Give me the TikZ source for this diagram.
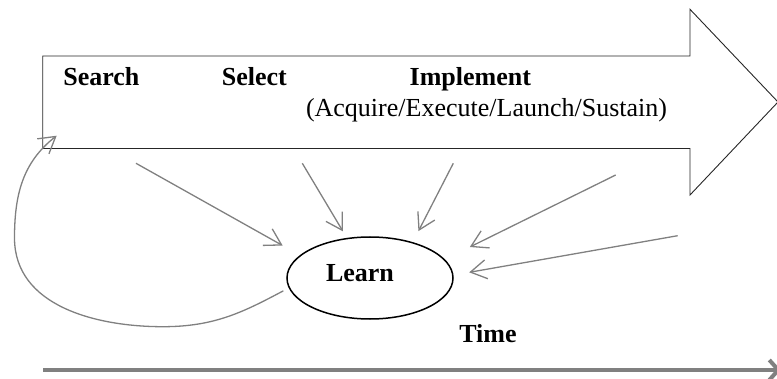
\documentclass[tikz,border=0pt]{standalone}
\usepackage{fontspec}
\setmainfont{Liberation Serif}
\usetikzlibrary{arrows.meta,shapes.geometric}

\begin{document}
\begin{tikzpicture}[
    x=1pt, y=1pt,
    lbl/.style={font=\fontsize{26}{30}\selectfont\bfseries, anchor=base, inner sep=0pt},
    note/.style={font=\fontsize{26}{30}\selectfont, anchor=base, inner sep=0pt},
    learnbox/.style={ellipse, draw=black, line width=1.5pt, minimum width=166pt, minimum height=82pt, inner sep=0pt},
    feed/.style={draw=gray, line width=1.3pt, -{Straight Barb[length=16pt,width=19pt]}}
  ]
  \useasboundingbox (0,0) rectangle (777,378);
  % process arrow
  \draw[black!85, line width=0.9pt] (42.7,322) -- (690,322) -- (690,368.7) -- (778,276)
    -- (690,183) -- (690,229.5) -- (42.7,229.5) -- cycle;
  \node[lbl] (search) at (101.4,292) {Search};
  \node[lbl] (select) at (254.3,292) {Select};
  \node[lbl] (implement) at (470.3,292) {Implement};
  \node[note] (steps) at (486.5,261.3) {(Acquire/Execute/Launch/Sustain)};

  \node[learnbox] (learn) at (370,100) {};
  \node[lbl] (learntxt) at (360,96.3) {Learn};
  \node[lbl] (time) at (488,36) {Time};

  \coordinate (s1) at (136,214.7);
  \coordinate (s2) at (302.3,214.7);
  \coordinate (s3) at (453.3,214.7);
  \coordinate (s4) at (615.7,203);
  \coordinate (s5) at (677.7,142.3);
  \draw[feed, shorten >=19.7pt] (s1) -- (learn.162);
  \draw[feed, shorten >=7.6pt] (s2) -- (learn.120);
  \draw[feed, shorten >=12.4pt] (s3) -- (learn.40);
  \draw[feed, shorten >=27.8pt] (s4) -- (learn.14);
  \draw[feed, shorten >=15.9pt] (s5) -- (learn.2);

  % feedback loop back to the start
  \coordinate (loopbot) at (163,51.3);
  \coordinate (loopleft) at (14.5,140);
  \coordinate (loopend) at (56.7,242.3);
  \draw[feed, shorten <=6pt] (learn.187) to[out=208,in=0] (loopbot)
    to[out=180,in=270] (loopleft) to[out=90,in=218] (loopend);

  % time axis
  \coordinate (t0) at (43.3,8);
  \coordinate (t1) at (781,8);
  \draw[gray, line width=4pt, -{Straight Barb[length=9pt,width=20pt]}] (t0) -- (t1);
\end{tikzpicture}
\end{document}
